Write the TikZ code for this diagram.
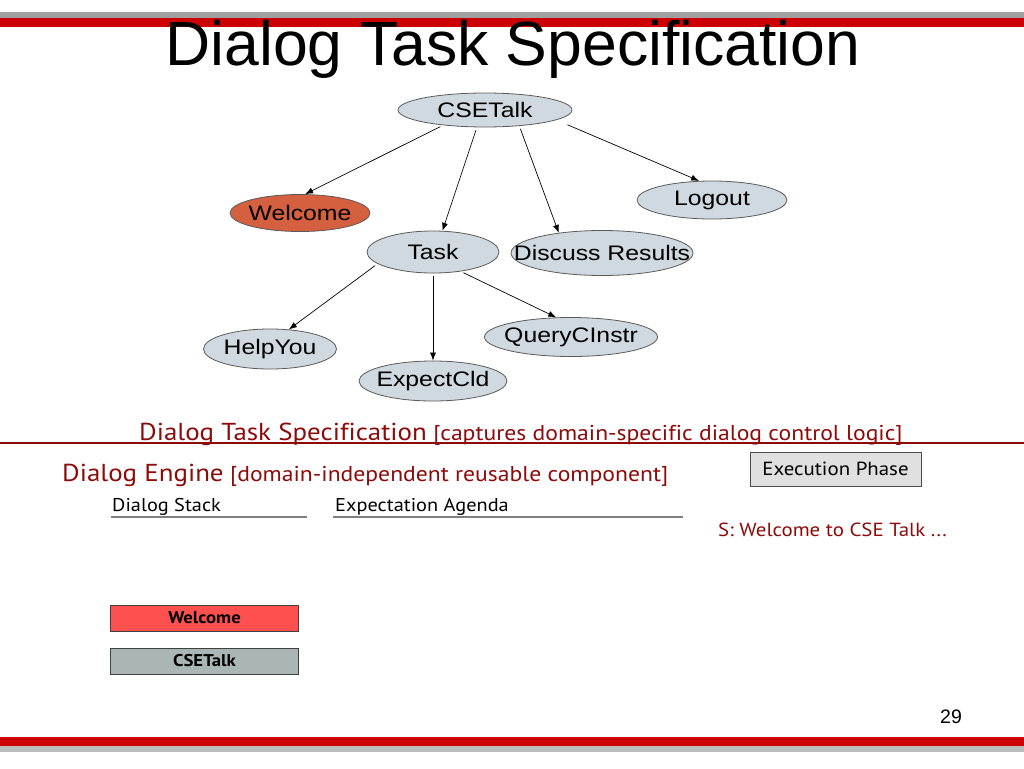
\documentclass[tikz,border=0pt]{standalone}
\usepackage{fontspec}
\setmainfont{Liberation Sans}
\newfontfamily\notefont[FakeStretch=1.1,Ligatures=NoCommon]{PT Sans}
\usepackage{graphicx}
\usetikzlibrary{positioning,shapes.geometric,arrows.meta}

\definecolor{barred}{RGB}{204,0,0}
\definecolor{bargray}{RGB}{160,160,160}
\definecolor{taskfill}{RGB}{208,216,224}
\definecolor{taskline}{RGB}{90,90,90}
\definecolor{welfill}{RGB}{212,96,64}
\definecolor{notered}{RGB}{140,10,10}
\definecolor{stackred}{RGB}{255,80,80}
\definecolor{stackgray}{RGB}{170,182,182}
\definecolor{phasefill}{RGB}{224,224,224}

% tree labels are drawn a little wide, and take no room of their own
\newcommand{\wide}[1]{\makebox[0pt]{\scalebox{1.18}[1]{#1}}}

\tikzset{
  agent/.style={draw=taskline,fill=taskfill,ellipse,inner sep=0pt,line width=0.8pt,
    font=\fontsize{21}{21}\selectfont},
  edge/.style={-{Latex[length=8pt,width=6pt]},line width=0.7pt,shorten <=3pt},
  note/.style={text=notered,font=\notefont\fontsize{21.5}{21.5}\selectfont},
  bignote/.style={text=notered,font=\notefont\fontsize{24.5}{24.5}\selectfont},
  plain/.style={font=\notefont\fontsize{18.5}{18.5}\selectfont},
  stackbox/.style={draw=black!75,line width=0.9pt,minimum width=188pt,minimum height=26pt,
    inner sep=0pt,font=\notefont\bfseries\fontsize{17}{17}\selectfont}
}

\begin{document}
\begin{tikzpicture}[x=1pt,y=-1pt]
  \useasboundingbox (0,0) rectangle (1024,768);
  % slide bars
  \fill[bargray] (0,12) rectangle (1024,18);
  \fill[barred] (0,18) rectangle (1024,27);
  \fill[barred] (0,737) rectangle (1024,746);
  \fill[bargray!70] (0,746) rectangle (1024,752);

  \node (title) [anchor=base,font=\fontsize{62.5}{62.5}\selectfont] at (513,66) {Dialog Task Specification};

  % task tree
  \node (cse) [agent,minimum width=174pt,minimum height=34pt] at (485,110) {\wide{CSETalk}};
  \node (welcome) [agent,fill=welfill,minimum width=140pt,minimum height=37pt] at (300,213) {\wide{Welcome}};
  \node (logout) [agent,minimum width=150pt,minimum height=38pt] at (712,200) {\wide{Logout}};
  \node (task) [agent,minimum width=132pt,minimum height=42pt] at (433,252) {\wide{Task}};
  \node (discuss) [agent,minimum width=182pt,minimum height=45pt] at (602,253) {\wide{Discuss Results}};
  \node (helpyou) [agent,minimum width=133pt,minimum height=40pt] at (270,349) {\wide{HelpYou}};
  \node (expect) [agent,minimum width=148pt,minimum height=40pt] at (433,381) {\wide{ExpectCld}};
  \node (query) [agent,minimum width=173pt,minimum height=39pt] at (571,337) {\wide{QueryCInstr}};

  \draw[edge] (cse.200) -- (welcome.75);
  \draw[edge] (cse.245) -- (task.66);
  \draw[edge] (cse.335) -- (discuss.155);
  \draw[edge,shorten <=12pt] (cse.352) -- (logout.124);
  \draw[edge] (task.192) -- (helpyou.46);
  \draw[edge] (task.south) -- (expect.north);
  \draw[edge] (task.325) -- (query.127);

  % dialog engine part
  \node (tsname) [bignote,anchor=base west,inner sep=0pt] at (139,440) {Dialog Task Specification};
  \node (tsnote) [note,base right=6pt of tsname,inner sep=0pt] {[captures domain-specific dialog control logic]};
  \draw[notered,line width=1.5pt] (0,443) -- (1024,443);

  \node (dename) [bignote,anchor=base west,inner sep=0pt] at (62,481) {Dialog Engine};
  \node (denote) [note,base right=6pt of dename,inner sep=0pt] {[domain-independent reusable component]};

  \node (phase) [draw=black!70,fill=phasefill,line width=1pt,minimum width=171pt,minimum height=34pt,
    plain,font=\notefont\fontsize{19}{19}\selectfont] at (835.5,469) {Execution Phase};

  \node (stack) [plain,anchor=base west,inner sep=0pt] at (112,511) {Dialog Stack};
  \node (agenda) [plain,anchor=base west,inner sep=0pt] at (335,511) {Expectation Agenda};
  \draw[black!50,line width=1.2pt] (111,517) -- (307,517);
  \draw[black!50,line width=1.2pt] (333,517) -- (683,517);

  \node (say) [plain,text=notered,font=\notefont\fontsize{19}{19}\selectfont,anchor=base west,inner sep=0pt]
    at (718,536) {S: Welcome to CSE Talk ...};

  \node (top) [stackbox,fill=stackred] at (204.5,618) {Welcome};
  \node (bottom) [stackbox,fill=stackgray] at (204.5,661) {CSETalk};

  \node (page) [font=\fontsize{19.5}{19.5}\selectfont] at (951,717) {29};
\end{tikzpicture}
\end{document}
